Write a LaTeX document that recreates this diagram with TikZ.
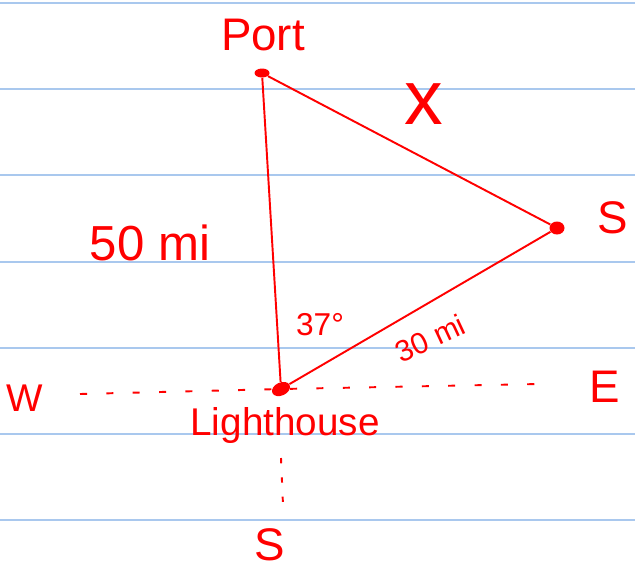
\documentclass[tikz,border=0pt]{standalone}
\usepackage{fontspec}
\setmainfont{Liberation Sans}
\usetikzlibrary{shapes.geometric}
\definecolor{inkred}{HTML}{FF0000}
\definecolor{ruleblue}{HTML}{A9C8EE}

\begin{document}
\begin{tikzpicture}[x=0.02cm, y=-0.02cm, inner sep=0pt,
    inkline/.style={inkred, line width=1.1pt},
    pin/.style={ellipse, fill=inkred, inner sep=0pt}]
  \useasboundingbox (0,0) rectangle (635,569);
  % --- ruled paper ---
  \foreach \y in {3,89,175,262,348,434,520}
    \draw[ruleblue, line width=1.2pt] (0,\y) -- (635,\y);

  % --- points ---
  \node[pin, minimum width=0.30cm, minimum height=0.18cm] (port) at (262,73) {};
  \node[pin, minimum width=0.30cm, minimum height=0.26cm] (ship) at (557,228) {};
  \node[pin, minimum width=0.38cm, minimum height=0.26cm, rotate=25] (lighthouse) at (281,389) {};

  % --- triangle ---
  \draw[inkline] (port) -- (ship);
  \draw[inkline] (ship) -- (lighthouse);
  \draw[inkline] (port) -- (lighthouse);

  % --- compass lines ---
  \coordinate (west) at (80,394);
  \coordinate (east) at (540,384);
  \coordinate (southtop) at (281,458);
  \coordinate (southend) at (283,505);
  \draw[inkline, dash pattern=on 4pt off 11pt] (west) -- (lighthouse);
  \draw[inkline, dash pattern=on 4pt off 11pt] (lighthouse) -- (east);
  \draw[inkline, dash pattern=on 3pt off 8pt] (southtop) -- (southend);

  % --- labels ---
  \node[inkred, font=\fontsize{26}{30}\selectfont] (portlabel) at (263,35) {Port};
  \node[inkred, font=\fontsize{44}{48}\selectfont] (xlabel) at (424,104) {x};
  \node[inkred, font=\fontsize{26}{30}\selectfont] (shiplabel) at (613,218) {S};
  \node[inkred, font=\fontsize{28}{32}\selectfont] (portdist) at (150,243) {50 mi};
  \node[inkred, font=\fontsize{18}{22}\selectfont] (angle) at (320,325) {37°};
  \node[inkred, font=\fontsize{17}{20}\selectfont, rotate=25] (shipdist) at (430,338) {30 mi};
  \node[inkred, font=\fontsize{22}{26}\selectfont] (wlabel) at (25,398) {W};
  \node[inkred, font=\fontsize{26}{30}\selectfont] (elabel) at (605,387) {E};
  \node[inkred, font=\fontsize{22}{26}\selectfont] (lhlabel) at (285,425) {Lighthouse};
  \node[inkred, font=\fontsize{26}{30}\selectfont] (slabel) at (270,545) {S};
\end{tikzpicture}
\end{document}
